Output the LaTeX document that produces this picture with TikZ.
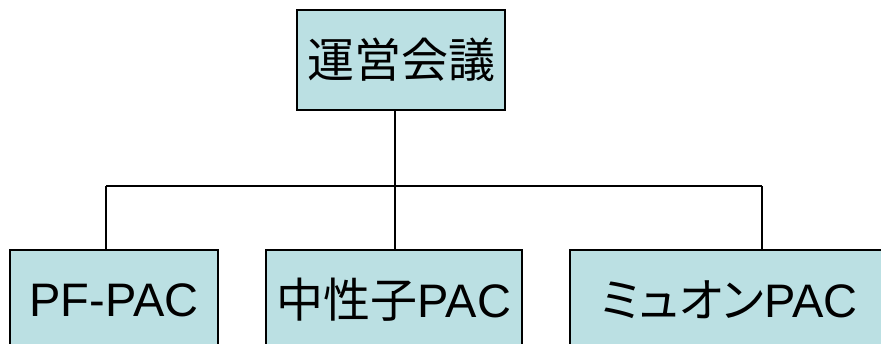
\documentclass[tikz,border=0pt]{standalone}
\usepackage{fontspec}
\setmainfont{Liberation Sans}
\newfontfamily\cjk{Noto Sans CJK JP}
\newfontfamily\cjkp[RawFeature=+palt]{Noto Sans CJK JP}
\definecolor{boxfill}{RGB}{187,224,227}
\begin{document}
\begin{tikzpicture}[x=1pt,y=-1pt,
  orgbox/.style={draw=black,line width=2pt,fill=boxfill,rectangle,inner sep=0pt,
    font=\fontsize{47}{56}\selectfont},
  conn/.style={draw=black,line width=1.5pt}]
\useasboundingbox (0,0) rectangle (881,343);
\clip (0,0) rectangle (881,343);
\node[orgbox,minimum width=208pt,minimum height=100pt] (top) at (401,60) {\cjk 運営会議};
\node[orgbox,minimum width=208pt,minimum height=100pt] (pf) at (114,300) {PF-PAC};
\node[orgbox,minimum width=256pt,minimum height=100pt] (mid) at (394,300) {{\cjk 中性子}PAC};
\node[orgbox,minimum width=318pt,minimum height=100pt,text width=318pt,align=center] (mu) at (729,300) {{\cjkp ミュオン}PAC};
\coordinate (bl) at (106,186);
\coordinate (bm) at (395,186);
\coordinate (br) at (762,186);
\draw[conn] (bm |- top.south) -- (bm);
\draw[conn] (bl) -- (br);
\draw[conn] (bl) -- (bl |- pf.north);
\draw[conn] (bm) -- (bm |- mid.north);
\draw[conn] (br) -- (br |- mu.north);
\end{tikzpicture}
\end{document}
